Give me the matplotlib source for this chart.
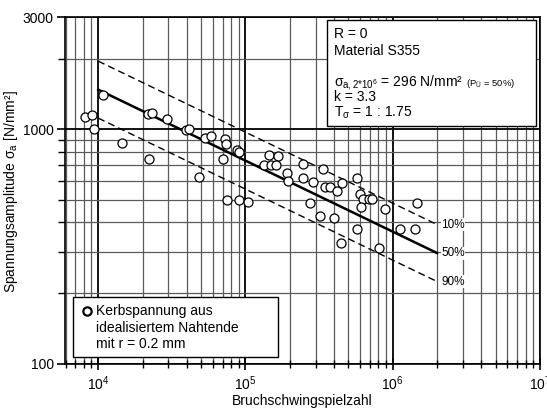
import matplotlib
matplotlib.use('Agg')
import matplotlib.pyplot as plt
import numpy as np
from matplotlib.ticker import FixedLocator, NullFormatter, FixedFormatter
from matplotlib.patches import Rectangle

plt.rcParams['font.family'] = ['Liberation Sans', 'DejaVu Sans']
plt.rcParams['mathtext.fontset'] = 'custom'
plt.rcParams['mathtext.rm'] = 'Liberation Sans'
plt.rcParams['mathtext.it'] = 'Liberation Sans'
plt.rcParams['mathtext.bf'] = 'Liberation Sans:bold'

# ---- data ----
cycles = [1.08e4, 8.12e3, 9.06e3, 9.39e3, 1.455e4, 2.165e4, 2.33e4, 2.91e4, 3.97e4, 4.14e4,
          2.21e4, 4.83e4, 5.30e4, 5.82e4, 7.31e4, 7.40e4, 8.70e4, 8.99e4, 7.03e4, 7.51e4,
          8.98e4, 1.033e5, 1.453e5, 1.667e5, 1.33e5, 1.494e5, 1.608e5, 1.90e5, 1.946e5, 2.45e5,
          2.44e5, 2.88e5, 2.74e5, 3.22e5, 3.35e5, 3.45e5, 3.77e5, 4.16e5, 4.53e5, 3.98e5,
          4.48e5, 5.75e5, 6.03e5, 6.30e5, 6.92e5, 7.21e5, 6.07e5, 5.68e5, 8.84e5, 8.09e5,
          1.112e6, 1.406e6, 1.458e6]
stress = [1400, 1125, 1151, 1000, 874, 1158, 1177, 1101, 988, 1000,
          749, 626, 917, 938, 912, 860, 811, 795, 749, 500,
          500, 487, 775, 767, 705, 705, 705, 647, 602, 707,
          620, 594, 486, 424, 676, 565, 565, 546, 591, 419,
          326, 618, 529, 501, 501, 503, 465, 375, 456, 310,
          376, 376, 483]

sigma_ref = 296.0      # N/mm^2 at N_ref, P = 50 %
N_ref = 2e6
k = 3.3
T_sigma = 1.75
N_start = 1e4
band_labels = ['10%', '50%', '90%']
band_factors = [np.sqrt(T_sigma), 1.0, 1.0 / np.sqrt(T_sigma)]

x_major = [1e4, 1e5, 1e6, 1e7]
x_major_labels = ['$10^4$', '$10^5$', '$10^6$', '$10^7$']
y_major = [100, 1000, 3000]
y_major_labels = ['100', '1000', '3000']

FS = 10

W, H = 547, 409
fig = plt.figure(figsize=(W / 100, H / 100), dpi=100)
L, R, T, B = 65, 540, 17.3, 363.5
ax = fig.add_axes([L / W, 1 - B / H, (R - L) / W, (B - T) / H])
ax.set_xscale('log')
ax.set_yscale('log')
ax.set_xlim(5950, 1e7)
ax.set_ylim(100, 3000)

def pa(x, y):
    return ((x - L) / (R - L), (B - y) / (B - T))

# ticks
ax.xaxis.set_major_locator(FixedLocator(x_major))
ax.xaxis.set_major_formatter(FixedFormatter(x_major_labels))
xminor = [m * 10 ** e for e in range(3, 7) for m in range(2, 10)]
ax.xaxis.set_minor_locator(FixedLocator(xminor))
ax.xaxis.set_minor_formatter(NullFormatter())
ax.yaxis.set_major_locator(FixedLocator(y_major))
ax.yaxis.set_major_formatter(FixedFormatter(y_major_labels))
yminor = [200, 300, 400, 500, 600, 700, 800, 900, 2000]
ax.yaxis.set_minor_locator(FixedLocator(yminor))
ax.yaxis.set_minor_formatter(NullFormatter())

ax.tick_params(axis='x', which='major', direction='inout', length=9, width=1.2, labelsize=FS, pad=3)
ax.tick_params(axis='x', which='minor', direction='inout', length=6, width=1.0)
ax.tick_params(axis='y', which='major', direction='out', length=6, width=1.2, labelsize=FS, pad=2)
ax.tick_params(axis='y', which='minor', direction='out', length=5, width=1.0)

ax.grid(which='minor', color='#5a5a5a', lw=0.9)
ax.grid(which='major', color='black', lw=1.3)
ax.set_axisbelow(True)
for s in ax.spines.values():
    s.set_linewidth(1.2)

# data points
ax.plot(cycles, stress, 'o', ms=6.5, mfc='white', mec='black', mew=0.9, zorder=4)

# Woehler lines
Ns = np.array([N_start, N_ref])
for lab, f in zip(band_labels, band_factors):
    s = f * sigma_ref * (Ns / N_ref) ** (-1.0 / k)
    if f == 1.0:
        ax.plot(Ns, s, color='black', lw=1.8, zorder=3)
    else:
        ax.plot(Ns, s, color='black', lw=1.0, ls=(0, (5, 3)), zorder=3)
    ax.text(2.13e6, s[-1], lab, fontsize=8.5, va='center', ha='left', zorder=5,
            bbox=dict(fc='white', ec='none', pad=0.3))

# info box
x0, y0 = pa(326.7, 126)
x1, y1 = pa(536, 20)
ax.add_patch(Rectangle((x0, y0), x1 - x0, y1 - y0, transform=ax.transAxes,
                       fc='white', ec='black', lw=1.0, zorder=6, clip_on=False))
tx = 334
ax.text(*pa(tx, 33.7), 'R = 0', transform=ax.transAxes, fontsize=FS, va='center', zorder=7)
ax.text(*pa(tx, 51), 'Material S355', transform=ax.transAxes, fontsize=FS, va='center', zorder=7)
sig_base = 86.5
t_sig = ax.text(*pa(tx, sig_base), r'$\sigma_{\mathrm{a,2{*}10^6}}$ = 296 N/mm²',
                transform=ax.transAxes, fontsize=FS, va='baseline', zorder=7)
fig.canvas.draw()
bb = t_sig.get_window_extent(renderer=fig.canvas.get_renderer())
xs_ax = ax.transAxes.inverted().transform((bb.x1 + 3, 0))[0]
ax.text(xs_ax, pa(tx, sig_base)[1], r'(P$_{\mathrm{Ü}}$ = 50%)', transform=ax.transAxes,
        fontsize=6.8, va='baseline', ha='left', zorder=7)
ax.text(*pa(tx, 97.2), 'k = 3.3', transform=ax.transAxes, fontsize=FS, va='center', zorder=7)
ax.text(*pa(tx, 112.7), r'T$_\sigma$ = 1 : 1.75', transform=ax.transAxes, fontsize=FS,
        va='center', zorder=7)

# legend box
x0, y0 = pa(73.3, 357.3)
x1, y1 = pa(277.7, 296.7)
ax.add_patch(Rectangle((x0, y0), x1 - x0, y1 - y0, transform=ax.transAxes,
                       fc='white', ec='black', lw=1.0, zorder=6, clip_on=False))
ax.plot(*pa(86.7, 311), 'o', ms=6, mfc='white', mec='black', mew=1.6,
        transform=ax.transAxes, zorder=7, clip_on=False)
for yy, line in zip([311, 327.5, 344], ['Kerbspannung aus', 'idealisiertem Nahtende', 'mit r = 0.2 mm']):
    ax.text(*pa(96.5, yy), line, transform=ax.transAxes, fontsize=FS, va='center', zorder=7)

ax.set_xlabel('Bruchschwingspielzahl', fontsize=FS)
ax.xaxis.set_label_coords(0.5, (B - 394) / (B - T))
ax.set_ylabel(r'Spannungsamplitude σ$_\mathrm{a}$ [N/mm²]', fontsize=FS)
ax.yaxis.set_label_coords((20.5 - L) / (R - L), (B - 192) / (B - T))

fig.savefig('out.png', dpi=100)
